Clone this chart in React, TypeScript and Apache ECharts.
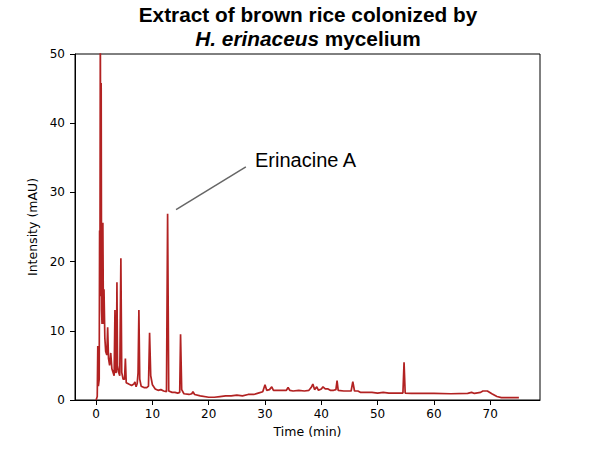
import React, { useEffect, useRef } from "react";
import * as echarts from "echarts";

const titleLine1 = "Extract of brown rice colonized by";
const titleItalic = "H. erinaceus";
const titleRest = " mycelium";
const xAxisName = "Time (min)";
const yAxisName = "Intensity (mAU)";
const annotationText = "Erinacine A";

const xTicks = [0, 10, 20, 30, 40, 50, 60, 70];
const yTicks = [0, 10, 20, 30, 40, 50];

// retention time (min)
const timeMin = [
  0.0, 0.2, 0.3, 0.4, 0.55, 0.62, 0.68, 0.75, 0.82, 0.9, 0.97, 1.05, 1.2, 1.3, 1.4, 1.55, 1.7, 1.9,
  2.05, 2.2, 2.4, 2.6, 2.8, 3.0, 3.2, 3.35, 3.45, 3.6, 3.7, 3.8, 4.0, 4.2, 4.4, 4.55, 4.8, 5.05,
  5.2, 5.35, 5.8, 6.3, 6.7, 6.9, 7.1, 7.3, 7.45, 7.6, 7.75, 8.0, 8.5, 9.0, 9.3, 9.5, 9.7, 10.0,
  10.5, 11.0, 11.5, 12.0, 12.5, 12.7, 12.9, 13.5, 14.0, 14.5, 14.85, 15.0, 15.2, 15.6, 16.5, 17.0,
  17.2, 17.5, 18.5, 20.0, 21.0, 22.0, 23.0, 24.0, 25.0, 26.0, 27.0, 28.0, 28.8, 29.6, 30.0, 30.3,
  30.8, 31.2, 31.5, 32.0, 33.0, 33.8, 34.1, 34.4, 35.0, 36.0, 37.0, 37.8, 38.2, 38.5, 38.8, 39.2,
  39.5, 40.0, 40.3, 40.7, 41.2, 41.6, 42.2, 42.6, 42.8, 43.0, 44.0, 45.3, 45.6, 45.9, 46.5, 47.0,
  49.0, 50.0, 51.0, 52.0, 54.5, 54.7, 54.9, 56.0, 60.0, 63.0, 66.0, 66.7, 67.2, 68.3, 68.7, 69.5,
  70.3, 71.2, 72.0, 75.1,
];

// absorbance (mAU)
const intensity = [
  0.0, 0.5, 7.8, 2.0, 3.0, 24.5, 15.0, 55.0, 20.0, 45.8, 13.0, 11.0, 25.6, 11.0, 16.0, 9.0, 7.0, 6.5,
  10.5, 6.0, 5.0, 6.8, 4.5, 4.0, 3.5, 13.0, 4.0, 4.0, 17.0, 5.0, 4.0, 3.5, 20.5, 4.0, 3.0, 3.0,
  6.0, 2.5, 2.3, 2.1, 2.3, 2.6, 1.9, 2.4, 3.9, 13.0, 3.0, 2.0, 1.8, 1.8, 2.0, 9.7, 3.5, 2.2,
  1.6, 1.4, 1.5, 1.3, 1.2, 26.9, 1.3, 1.1, 1.1, 1.0, 1.1, 9.5, 1.5, 0.9, 0.8, 0.9,
  1.2, 0.8, 0.6, 0.4, 0.4, 0.5, 0.6, 0.6, 0.7, 0.6, 0.8, 0.8, 1.0, 1.2, 2.2, 1.4,
  1.5, 1.9, 1.4, 1.4, 1.4, 1.4, 1.8, 1.4, 1.3, 1.4, 1.3, 1.4, 1.8, 2.3, 1.5, 1.9,
  1.4, 1.6, 1.9, 1.6, 1.6, 1.4, 1.4, 1.5, 2.8, 1.4, 1.3, 1.3, 2.65, 1.3, 1.3, 1.1,
  1.1, 1.0, 1.1, 1.0, 1.0, 5.45, 1.0, 0.95, 0.95, 0.9, 0.95, 1.1, 0.95, 1.1, 1.3, 1.3,
  0.9, 0.5, 0.35, 0.33,
];

// annotation leader line endpoints in data coordinates [time, intensity]
const leaderStart = [14.2, 27.5];
const leaderEnd = [26.6, 33.7];

export default function App() {
  const ref = useRef<HTMLDivElement>(null);

  useEffect(() => {
    if (!ref.current) return;
    document.body.style.margin = "0";
    const chart = echarts.init(ref.current, undefined, { renderer: "svg" });
    const data = timeMin.map((t, i) => [t, intensity[i]]);
    const axisFont = "DejaVu Sans";
    const tickSize = 12;
    const nameSize = 12.5;
    const titleSize = 20.8;
    chart.setOption({
      animation: false,
      backgroundColor: "#ffffff",
      title: {
        left: 308,
        top: 2,
        textAlign: "center",
        padding: 0,
        text: `{b|${titleLine1}}\n{i|${titleItalic}}{b|${titleRest}}`,
        textStyle: {
          rich: {
            b: {
              fontFamily: "Liberation Sans",
              fontWeight: "bold",
              fontSize: titleSize,
              lineHeight: 24,
              color: "#000",
            },
            i: {
              fontFamily: "Liberation Sans",
              fontWeight: "bold",
              fontStyle: "italic",
              fontSize: titleSize,
              lineHeight: 24,
              color: "#000",
            },
          },
        },
      },
      grid: {
        left: 75,
        right: 60,
        top: 54,
        bottom: 50,
        show: true,
        borderColor: "#000",
        borderWidth: 1,
        backgroundColor: "transparent",
      },
      xAxis: {
        type: "value",
        min: -3.75,
        max: 78.85,
        name: xAxisName,
        nameLocation: "middle",
        nameGap: 25,
        nameTextStyle: { fontFamily: axisFont, fontSize: nameSize, color: "#000" },
        axisLine: { show: true, onZero: false, lineStyle: { color: "#000", width: 1 } },
        axisTick: {
          show: true,
          inside: false,
          length: 5,
          customValues: xTicks,
          lineStyle: { color: "#000" },
        },
        axisLabel: {
          customValues: xTicks,
          margin: 8,
          fontFamily: axisFont,
          fontSize: tickSize,
          color: "#000",
        },
        splitLine: { show: false },
      },
      yAxis: {
        type: "value",
        min: 0,
        max: 50,
        interval: 10,
        name: yAxisName,
        nameLocation: "middle",
        nameGap: 26,
        nameTextStyle: { fontFamily: axisFont, fontSize: nameSize, color: "#000" },
        axisLine: { show: true, onZero: false, lineStyle: { color: "#000", width: 1 } },
        axisTick: { show: true, inside: false, length: 5, lineStyle: { color: "#000" } },
        axisLabel: {
          margin: 10,
          fontFamily: axisFont,
          fontSize: tickSize,
          color: "#000",
          customValues: yTicks,
        },
        splitLine: { show: false },
      },
      series: [
        {
          type: "line",
          data,
          showSymbol: false,
          symbol: "none",
          clip: true,
          lineStyle: { color: "#b22222", width: 1.7 },
          emphasis: { disabled: true },
          markLine: {
            silent: true,
            symbol: "none",
            label: { show: false },
            lineStyle: { color: "#666666", width: 1.5, type: "solid" },
            emphasis: { disabled: true },
            data: [
              [
                { coord: leaderStart },
                { coord: leaderEnd },
              ],
            ],
          },
        },
      ],
      graphic: [
        {
          type: "text",
          x: 255,
          y: 159.5,
          style: {
            text: annotationText,
            fontFamily: "Liberation Sans",
            fontSize: 20,
            fill: "#000",
            align: "left",
            verticalAlign: "middle",
          },
        },
      ],
    });
    return () => chart.dispose();
  }, []);

  return <div ref={ref} style={{ width: 600, height: 450 }} />;
}
